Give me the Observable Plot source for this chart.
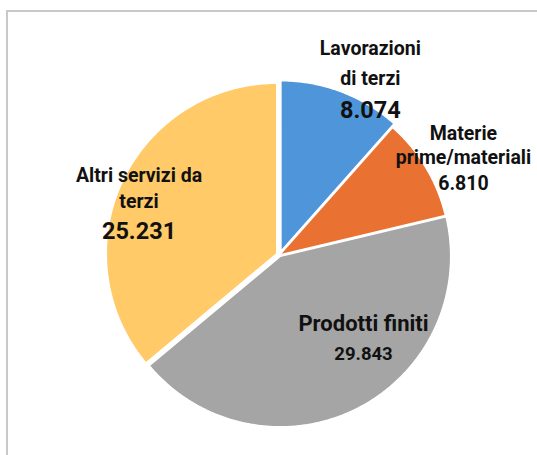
<!DOCTYPE html>
<html><head><meta charset="utf-8">
<script src="https://cdn.jsdelivr.net/npm/d3@7"></script>
<script src="https://cdn.jsdelivr.net/npm/@observablehq/plot@0.6"></script>
<style>
body{margin:0;background:#fff;overflow:hidden}
#wrap{position:relative;width:537px;height:455px}
#wrap svg{background:transparent}
#frame{position:absolute;left:6px;top:10px;width:600px;height:600px;border-left:2px solid #c8c8c8;border-top:2px solid #c8c8c8;box-sizing:border-box;pointer-events:none;z-index:2}
</style></head><body>
<div id="wrap"><div id="frame"></div></div>
<script>
// ---- data ----
const categories = ["Lavorazioni di terzi", "Materie prime/materiali", "Prodotti finiti", "Altri servizi da terzi"];
const values = [8074, 6810, 29843, 25231];
const valueLabels = ["8.074", "6.810", "29.843", "25.231"];
const nameLabels = ["Lavorazioni\ndi terzi", "Materie\nprime/materiali", "Prodotti finiti", "Altri servizi da\nterzi"];
const colors = ["#4E95D9", "#E97132", "#A5A5A5", "#FFCA67"];

// ---- layout ----
const CX = 279, CY = 254.5, R = 170.5;
const explodePx = [4, 0, 1.5, 3];
const labelLayout = [
  {dAng: 3.7, rf: 1.286, gap: 30, vgap: 62.3, nameSize: 19.5, valueSize: 23.5},
  {dAng: -1.0, rf: 1.271, gap: 23.5, vgap: 50, nameSize: 19.5, valueSize: 19.5},
  {dAng: -21.1, rf: 0.666, gap: 0, vgap: 29, nameSize: 22, valueSize: 18.5},
  {dAng: 2.3, rf: 0.928, gap: 25.6, vgap: 56.6, nameSize: 19.5, valueSize: 23.5}
];

const table = categories.map((c, i) => ({cat: c, value: values[i], i}));
const arcs = d3.pie().sort(null).value(d => d.value)(table);

// slice outlines in unit-radius coordinates
const pts = [];
arcs.forEach(a => {
  const i = a.data.i;
  const mid = (a.startAngle + a.endAngle) / 2;
  const e = explodePx[i] / R;
  const ox = e * Math.sin(mid), oy = e * Math.cos(mid);
  pts.push({cat: a.data.cat, x: ox, y: oy});
  const n = Math.max(2, Math.ceil((a.endAngle - a.startAngle) / (Math.PI / 360)));
  for (let k = 0; k <= n; k++) {
    const t = a.startAngle + (a.endAngle - a.startAngle) * k / n;
    pts.push({cat: a.data.cat, x: ox + Math.sin(t), y: oy + Math.cos(t)});
  }
});

// labels
const nameRows = [], valueRows = [];
arcs.forEach(a => {
  const i = a.data.i, L = labelLayout[i];
  const ang = (a.startAngle + a.endAngle) / 2 + L.dAng * Math.PI / 180;
  const ax = L.rf * Math.sin(ang), ay = L.rf * Math.cos(ang);
  nameLabels[i].split("\n").forEach((line, k) => {
    nameRows.push({text: line, x: ax, y: ay - k * L.gap / R, size: L.nameSize});
  });
  valueRows.push({text: valueLabels[i], x: ax, y: ay - L.vgap / R, size: L.valueSize});
});

const font = "Roboto, 'Liberation Sans', sans-serif";
const chart = Plot.plot({
  width: 537, height: 455,
  margin: 0,
  x: {domain: [-1, 1], range: [CX - R, CX + R], axis: null},
  y: {domain: [-1, 1], range: [CY + R, CY - R], axis: null},
  color: {domain: categories, range: colors},
  style: {background: "transparent"},
  marks: [
    Plot.line(pts, {x: "x", y: "y", z: "cat", fill: "cat", stroke: "white", strokeWidth: 1.5, curve: "linear-closed"}),
    Plot.text(nameRows, {x: "x", y: "y", text: "text", fontSize: "size", lineAnchor: "bottom", textAnchor: "middle",
      fontFamily: font, fontWeight: "bold", fill: "#111"}),
    Plot.text(valueRows, {x: "x", y: "y", text: "text", fontSize: "size", lineAnchor: "bottom", textAnchor: "middle",
      fontFamily: font, fontWeight: "bold", fill: "#111"})
  ]
});
document.getElementById("wrap").appendChild(chart);
</script>
</body></html>
